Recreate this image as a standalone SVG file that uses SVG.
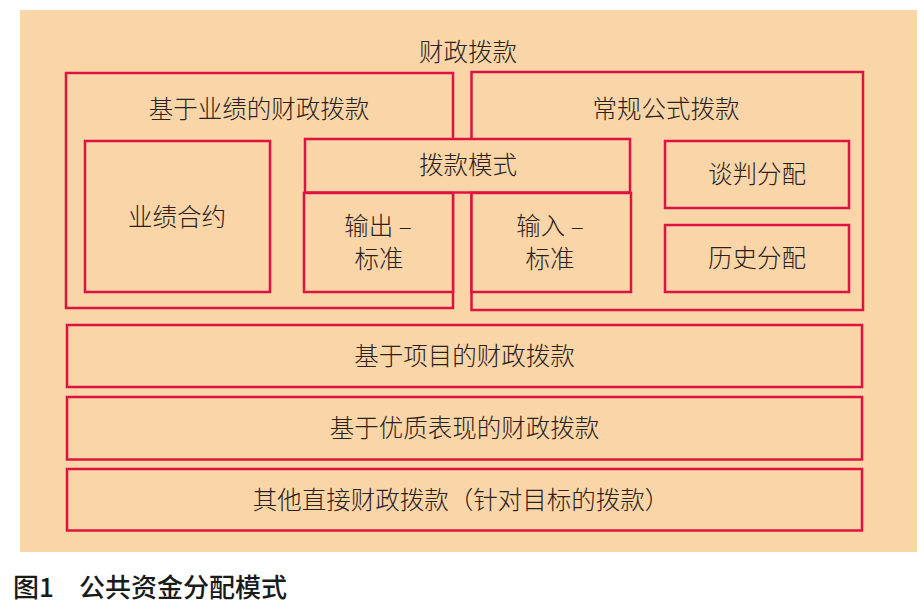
<svg xmlns="http://www.w3.org/2000/svg" width="924" height="613" viewBox="0 0 924 613">
<style>
.bx{fill:#F9D5A8;stroke:#DF1340;stroke-width:2.5}
.t{font-family:"Noto Sans CJK SC","Noto Sans",sans-serif;font-size:24.5px;font-weight:300;fill:#2b211c;text-anchor:middle}
.cap{font-family:"Noto Sans CJK SC","Noto Sans",sans-serif;font-size:26px;fill:#1a1a1a;font-weight:500}
</style>
<rect x="0" y="0" width="924" height="613" fill="#ffffff"/>
<rect id="background" x="20" y="10" width="897" height="542" fill="#F9D5A8"/>
<g id="connectors"></g>
<text id="title" class="t" x="468" y="61">财政拨款</text>
<g id="performance-based">
<rect class="bx" x="66" y="73" width="387" height="235"/>
<text class="t" x="259" y="118">基于业绩的财政拨款</text>
</g>
<g id="formula">
<rect class="bx" x="471.5" y="72" width="391.5" height="238"/>
<text class="t" x="666" y="118">常规公式拨款</text>
</g>
<g id="contract">
<rect class="bx" x="85" y="141" width="185" height="151"/>
<text class="t" x="177" y="226">业绩合约</text>
</g>
<g id="mode">
<rect class="bx" x="305" y="139" width="325" height="53.5"/>
<text class="t" x="468" y="174">拨款模式</text>
</g>
<g id="output-standard">
<rect class="bx" x="304" y="193" width="149" height="99"/>
<text class="t" x="378" y="235">输出 –</text>
<text class="t" x="379" y="268">标准</text>
</g>
<g id="input-standard">
<rect class="bx" x="471.5" y="193" width="159.5" height="99"/>
<text class="t" x="550" y="235">输入 –</text>
<text class="t" x="550" y="268">标准</text>
</g>
<g id="negotiated">
<rect class="bx" x="665" y="141" width="184" height="67"/>
<text class="t" x="757" y="183">谈判分配</text>
</g>
<g id="historical">
<rect class="bx" x="665" y="225" width="184" height="67"/>
<text class="t" x="757" y="267">历史分配</text>
</g>
<g id="project-based">
<rect class="bx" x="67" y="325" width="795" height="62"/>
<text class="t" x="464.5" y="365">基于项目的财政拨款</text>
</g>
<g id="quality-based">
<rect class="bx" x="67" y="397" width="795" height="62.5"/>
<text class="t" x="464.5" y="437">基于优质表现的财政拨款</text>
</g>
<g id="other-direct">
<rect class="bx" x="67" y="469" width="795" height="61.5"/>
<text class="t" x="461" y="509">其他直接财政拨款（针对目标的拨款）</text>
</g>
<g id="caption">
<text class="cap" x="13" y="597">图1</text>
<text class="cap" x="79" y="597">公共资金分配模式</text>
</g>
</svg>
